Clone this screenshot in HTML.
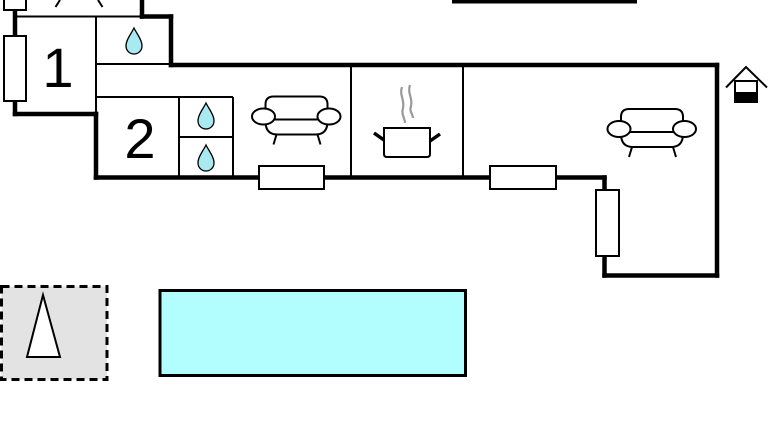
<!DOCTYPE html>
<html>
<head>
<meta charset="utf-8">
<style>
  html,body{margin:0;padding:0;background:#fff;}
  svg{display:block;}
  text{font-family:"Liberation Sans",sans-serif;}
</style>
</head>
<body>
<svg width="768" height="432" viewBox="0 0 768 432" xmlns="http://www.w3.org/2000/svg">
  <rect x="0" y="0" width="768" height="432" fill="#fff"/>

  <!-- top-right bar -->
  <rect x="452" y="0" width="185" height="3.5" fill="#000"/>

  <!-- partial top shape lines -->
  <line x1="60" y1="0" x2="55.5" y2="7" stroke="#000" stroke-width="2"/>
  <line x1="98" y1="0" x2="102.5" y2="7" stroke="#000" stroke-width="2"/>

  <!-- thin interior lines -->
  <g stroke="#000" stroke-width="2" fill="none">
    <line x1="15" y1="16.5" x2="142" y2="16.5"/>
    <line x1="96" y1="16" x2="96" y2="113"/>
    <line x1="96" y1="64" x2="171" y2="64"/>
    <line x1="96" y1="97" x2="233" y2="97"/>
    <line x1="179" y1="97" x2="179" y2="177"/>
    <line x1="233" y1="97" x2="233" y2="177"/>
    <line x1="179" y1="137" x2="233" y2="137"/>
    <line x1="351" y1="65" x2="351" y2="177"/>
    <line x1="463" y1="65" x2="463" y2="177"/>
  </g>

  <!-- thick walls -->
  <g stroke="#000" stroke-width="4.5" fill="none" stroke-linecap="square">
    <line x1="15" y1="10" x2="15" y2="36"/>
    <line x1="15" y1="101" x2="15" y2="114"/>
    <line x1="15" y1="114" x2="96" y2="114"/>
    <line x1="96" y1="114" x2="96" y2="177.5"/>
    <line x1="96" y1="177.5" x2="604.5" y2="177.5"/>
    <line x1="604.5" y1="177.5" x2="604.5" y2="190"/>
    <line x1="604.5" y1="256" x2="604.5" y2="275.5"/>
    <line x1="604.5" y1="275.5" x2="717" y2="275.5"/>
    <line x1="717" y1="275.5" x2="717" y2="65"/>
    <line x1="717" y1="65" x2="171" y2="65"/>
    <line x1="171" y1="65" x2="171" y2="16.5"/>
    <line x1="171" y1="16.5" x2="142" y2="16.5"/>
    <line x1="142" y1="16.5" x2="142" y2="0"/>
  </g>

  <!-- windows -->
  <g fill="#fff" stroke="#000" stroke-width="2">
    <rect x="4" y="-3" width="22" height="13"/>
    <rect x="4" y="36" width="22" height="65"/>
    <rect x="259" y="166" width="65" height="23"/>
    <rect x="490" y="166" width="66" height="23"/>
    <rect x="596" y="190" width="23" height="66"/>
  </g>

  <!-- numbers -->
  <text x="58" y="87" font-size="56" text-anchor="middle" fill="#000">1</text>
  <text x="140" y="158" font-size="56" text-anchor="middle" fill="#000">2</text>

  <!-- drops -->
  <defs>
    <path id="drop" d="M0,0 C3,6 8,12 8,18 A8,8 0 0 1 -8,18 C-8,12 -3,6 0,0 Z" fill="#a9e9f0" stroke="#000" stroke-width="1.3"/>
  </defs>
  <use href="#drop" x="134" y="28"/>
  <use href="#drop" x="206" y="103"/>
  <use href="#drop" x="206" y="145"/>

  <!-- sofa (right) -->
  <g id="sofa" fill="#fff" stroke="#000" stroke-width="2">
    <path d="M621,126 V117 Q621,109 629,109 H675 Q683,109 683,117 V126"/>
    <path d="M621,134 Q621,147 633,147 H671 Q683,147 683,134"/>
    <line x1="630" y1="132" x2="674" y2="132"/>
    <line x1="632" y1="147" x2="629" y2="157"/>
    <line x1="673" y1="147" x2="676" y2="157"/>
    <ellipse cx="619" cy="129" rx="11.5" ry="8"/>
    <ellipse cx="684.5" cy="129" rx="11.5" ry="8"/>
  </g>
  <!-- sofa (left) -->
  <g transform="translate(-355.5,-12.5)" fill="#fff" stroke="#000" stroke-width="2">
    <path d="M621,126 V117 Q621,109 629,109 H675 Q683,109 683,117 V126"/>
    <path d="M621,134 Q621,147 633,147 H671 Q683,147 683,134"/>
    <line x1="630" y1="132" x2="674" y2="132"/>
    <line x1="632" y1="147" x2="629" y2="157"/>
    <line x1="673" y1="147" x2="676" y2="157"/>
    <ellipse cx="619" cy="129" rx="11.5" ry="8"/>
    <ellipse cx="684.5" cy="129" rx="11.5" ry="8"/>
  </g>

  <!-- pot -->
  <g>
    <path d="M402,87 C399,95 405,100 403,108 C401,115 405,118 405,123" fill="none" stroke="#999" stroke-width="2.2"/>
    <path d="M410,85 C407,93 413,98 411,106 C409,112 413,114 413,118" fill="none" stroke="#999" stroke-width="2.2"/>
    <path d="M384,128 H430 V154 Q430,157 427,157 H387 Q384,157 384,154 Z" fill="#fff" stroke="#000" stroke-width="2"/>
    <line x1="374" y1="133" x2="384" y2="140" stroke="#000" stroke-width="3.5"/>
    <line x1="440" y1="134" x2="430" y2="141" stroke="#000" stroke-width="3.5"/>
  </g>

  <!-- house icon -->
  <g>
    <polyline points="726,87.5 746,67 767,87.5" fill="none" stroke="#000" stroke-width="2"/>
    <rect x="735" y="81" width="22" height="21" fill="#fff" stroke="#000" stroke-width="2"/>
    <rect x="734" y="92" width="24" height="11" fill="#000"/>
  </g>

  <!-- compass -->
  <rect x="1.5" y="286.5" width="105.5" height="93" fill="#e3e3e3" stroke="#000" stroke-width="3" stroke-dasharray="8,5"/>
  <polygon points="43,295 27,357 60,357" fill="#fff" stroke="#000" stroke-width="2"/>

  <!-- pool -->
  <rect x="160" y="290.5" width="305.5" height="85" fill="#b2fefe" stroke="#000" stroke-width="3"/>
</svg>
</body>
</html>
